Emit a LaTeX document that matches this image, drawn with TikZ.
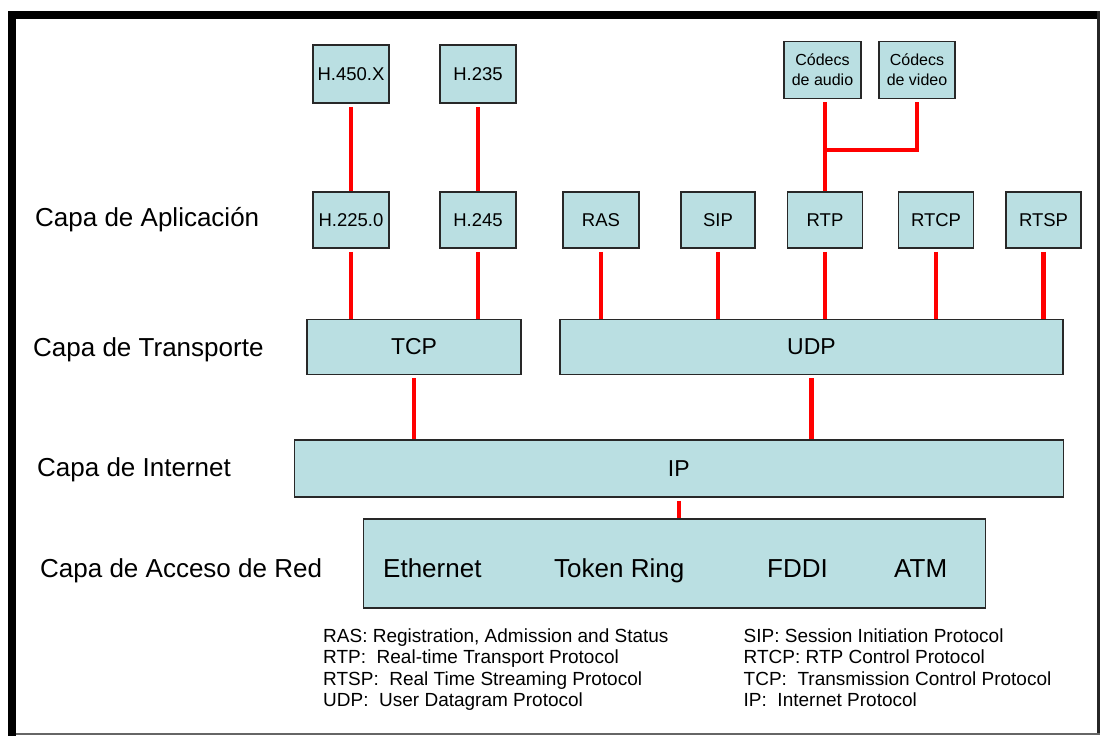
\documentclass[tikz,border=0pt]{standalone}
\usepackage{fontspec}
\setmainfont{Liberation Sans}
\definecolor{boxfill}{RGB}{186,223,226}
\definecolor{boxline}{RGB}{40,40,40}
\begin{document}
\begin{tikzpicture}[x=1pt,y=-1pt,
  box/.style={draw=boxline, line width=1.5pt, fill=boxfill, inner sep=0pt, align=center,
              font=\fontsize{18.5}{20}\selectfont},
  codec/.style={box, font=\fontsize{16}{20}\selectfont},
  big/.style={box, font=\fontsize{23}{26}\selectfont},
  link/.style={draw=red, line width=4.5pt, shorten <=3pt},
  layer/.style={anchor=base west, inner sep=0pt, font=\fontsize{26}{30}\selectfont},
  acc/.style={anchor=base west, inner sep=0pt, font=\fontsize{26}{30}\selectfont},
  legend/.style={anchor=base west, inner sep=0pt, font=\fontsize{19}{21}\selectfont},
]
\useasboundingbox (0,0) rectangle (1102,736);
% frame
\fill[black] (8,11) rectangle (16,736);
\fill[black] (8,11) rectangle (1100,19);
\fill[black!85] (1097,11) rectangle (1100,735);
\fill[black!60] (16,733) rectangle (1100,735);

% top row
\node[box, minimum width=76pt, minimum height=58pt] (h450) at (351,74) {H.450.X};
\node[box, minimum width=76pt, minimum height=58pt] (h235) at (478,74) {H.235};
\node[codec, minimum width=77pt, minimum height=57pt] (caud) at (822.5,70) {Códecs\\de audio};
\node[codec, minimum width=76pt, minimum height=57pt] (cvid) at (917,70) {Códecs\\de video};

% application row
\node[box, minimum width=76pt, minimum height=56pt] (h225) at (351,220) {H.225.0};
\node[box, minimum width=76pt, minimum height=56pt] (h245) at (478,220) {H.245};
\node[box, minimum width=76pt, minimum height=56pt] (ras) at (601,220) {RAS};
\node[box, minimum width=74pt, minimum height=56pt] (sip) at (718,220) {SIP};
\node[box, minimum width=75pt, minimum height=56pt] (rtp) at (825,220) {RTP};
\node[box, minimum width=75pt, minimum height=56pt] (rtcp) at (936,220) {RTCP};
\node[box, minimum width=75pt, minimum height=56pt] (rtsp) at (1043.5,220) {RTSP};

% transport row
\node[big, minimum width=214pt, minimum height=55pt] (tcp) at (414,347) {TCP};
\node[big, minimum width=503pt, minimum height=55pt] (udp) at (811.5,347) {UDP};

% internet row
\node[big, minimum width=769pt, minimum height=57pt] (ip) at (678.75,468.5) {IP};

% access row
\node[box, minimum width=622pt, minimum height=89pt] (acc) at (674.25,563.5) {};
\node[acc] (eth) at (383,577) {Ethernet};
\node[acc] (tok) at (554,577) {Token Ring};
\node[acc] (fddi) at (767,577) {FDDI};
\node[acc] (atm) at (894,577) {ATM};

% layer labels
\node[layer] (lapp) at (35,226) {Capa de Aplicación};
\node[layer] (ltra) at (33,356) {Capa de Transporte};
\node[layer] (lint) at (37,476) {Capa de Internet};
\node[layer] (lacc) at (40,577) {Capa de Acceso de Red};

% connectors
\draw[link] (h450.south -| h225.north) -- (h225.north);
\draw[link] (h235.south -| h245.north) -- (h245.north);
\draw[link] (h225.south) -- (h225.south |- tcp.north);
\draw[link] (h245.south) -- (h245.south |- tcp.north);
\draw[link] (ras.south) -- (ras.south |- udp.north);
\draw[link] (sip.south) -- (sip.south |- udp.north);
\draw[link] (rtp.south) -- (rtp.south |- udp.north);
\draw[link] (rtcp.south) -- (rtcp.south |- udp.north);
\draw[link] (rtsp.south) -- (rtsp.south |- udp.north);
\draw[link] (tcp.south) -- (tcp.south |- ip.north);
\draw[link] (udp.south) -- (udp.south |- ip.north);
\draw[link] (ip.south) -- (ip.south |- acc.north);
\coordinate (j) at (rtp.north |- 0,150);
\draw[link] (caud.south -| rtp.north) -- (rtp.north);
\draw[link] (cvid.south) |- (j);

% legend
\node[legend] (l1) at (323,642) {RAS: Registration, Admission and Status};
\node[legend] (l2) at (323,663.5) {RTP:\ \ Real-time Transport Protocol};
\node[legend] (l3) at (323,685) {RTSP:\ \ Real Time Streaming Protocol};
\node[legend] (l4) at (323,706.5) {UDP:\ \ User Datagram Protocol};
\node[legend] (r1) at (743.5,642) {SIP: Session Initiation Protocol};
\node[legend] (r2) at (743.5,663.5) {RTCP: RTP Control Protocol};
\node[legend] (r3) at (743.5,685) {TCP:\ \ Transmission Control Protocol};
\node[legend] (r4) at (743.5,706.5) {IP:\ \ Internet Protocol};
\end{tikzpicture}
\end{document}
